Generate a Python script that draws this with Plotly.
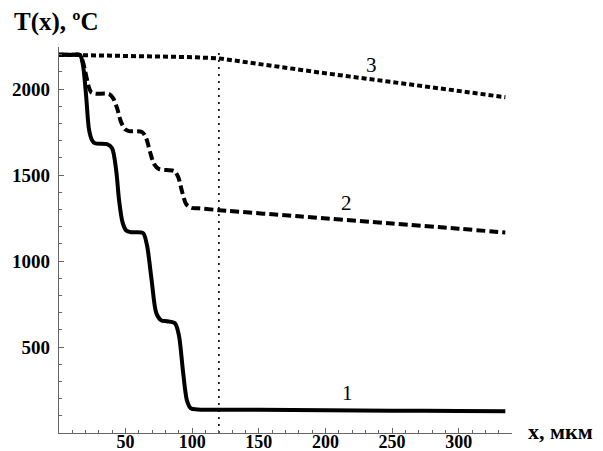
import plotly.graph_objects as go

# Curve 1 (solid)
x1 = [0, 10, 15.8, 18, 20.3, 22.6, 24.8, 27, 36, 39.8, 42.9, 45.1, 47.7, 50.4, 54, 63,
      66, 69.5, 73, 76.7, 81, 87, 90, 93, 96, 99, 103.8, 150, 200, 250, 300, 335]
t1 = [2200, 2200, 2198, 2139, 1965, 1761, 1703, 1685, 1680, 1657, 1528, 1353, 1225, 1178, 1168, 1163,
      1093, 890, 698, 655, 650, 638, 568, 364, 190, 143, 137, 135, 133, 130, 128, 126]

# Curve 2 (dashed)
x2 = [0, 10, 15.8, 18, 20.3, 22.2, 24, 27, 37.6, 40.6, 43.6, 46.6, 49.6, 52.6, 62.4, 65.4,
      68.4, 71.4, 75.2, 86.5, 89.5, 92.5, 95.5, 99.2, 105, 120, 180, 250, 300, 335]
t2 = [2200, 2200, 2198, 2157, 2081, 2017, 1983, 1974, 1971, 1948, 1889, 1808, 1767, 1756, 1750, 1715,
      1633, 1564, 1535, 1523, 1488, 1400, 1330, 1310, 1307, 1296, 1260, 1218, 1188, 1166]

# Curve 3 (short dashes)
x3 = [0, 50, 100, 120, 150, 200, 255, 300, 335]
t3 = [2200, 2195, 2186, 2179, 2145, 2092, 2036, 1989, 1953]

# Vertical dotted marker
xv = [120, 120]
tv = [0, 2218]

# Curve labels
lab_x = [216.8, 215.6, 234.4]
lab_t = [230, 1338, 2140]
lab_text = ["1", "2", "3"]

xticks = [50, 100, 150, 200, 250, 300]
yticks = [500, 1000, 1500, 2000]

fig = go.Figure()
fig.add_trace(go.Scatter(x=xv, y=tv, mode="lines",
                         line=dict(color="black", width=1.6, dash="2px,5px"), hoverinfo="skip"))
fig.add_trace(go.Scatter(x=x3, y=t3, mode="lines",
                         line=dict(color="black", width=4, dash="5px,3px")))
fig.add_trace(go.Scatter(x=x2, y=t2, mode="lines", line_shape="spline",
                         line=dict(color="black", width=4, dash="9px,4px", smoothing=0.8)))
fig.add_trace(go.Scatter(x=x1, y=t1, mode="lines", line_shape="spline",
                         line=dict(color="black", width=4, smoothing=0.8)))

for xx, tt, s in zip(lab_x, lab_t, lab_text):
    fig.add_annotation(x=xx, y=tt, text=s, showarrow=False,
                       font=dict(family="Liberation Serif", size=21, color="black"))

fig.add_annotation(xref="paper", yref="paper", x=-0.104, y=1.065, xanchor="left", yanchor="middle",
                   text="<b>T(x), ºC</b>", showarrow=False,
                   font=dict(family="Liberation Serif", size=25, color="black"))
fig.add_annotation(xref="paper", yref="paper", x=1.031, y=0.003, xanchor="left", yanchor="middle",
                   text="<b>x, мкм</b>", showarrow=False,
                   font=dict(family="Liberation Serif", size=22, color="black"))

axis_common = dict(showgrid=False, zeroline=False, showline=True, linecolor="#666", linewidth=1.2,
                   ticks="inside", ticklen=5, tickcolor="#666", tickwidth=1,
                   tickfont=dict(family="Liberation Serif", size=19, color="black", weight="bold"),
                   fixedrange=True)

fig.update_xaxes(range=[0, 340], tickvals=xticks, ticktext=[str(v) for v in xticks],
                 minor=dict(dtick=10, tick0=0, ticks="inside", ticklen=3, tickcolor="#666"),
                 ticklabelstandoff=-8, **axis_common)
fig.update_yaxes(range=[0, 2245], tickvals=yticks, ticktext=[str(v) for v in yticks],
                 minor=dict(dtick=100, tick0=0, ticks="inside", ticklen=3, tickcolor="#666"),
                 ticklabelstandoff=4, **axis_common)
fig.update_xaxes(tickfont_size=18)

# page body has an 8px default margin, so the figure is sized/offset to compensate
fig.update_layout(width=595, height=443, showlegend=False,
                  margin=dict(l=51, r=91, t=39, b=18, autoexpand=False),
                  plot_bgcolor="white", paper_bgcolor="white")

fig.write_html("out.html")
